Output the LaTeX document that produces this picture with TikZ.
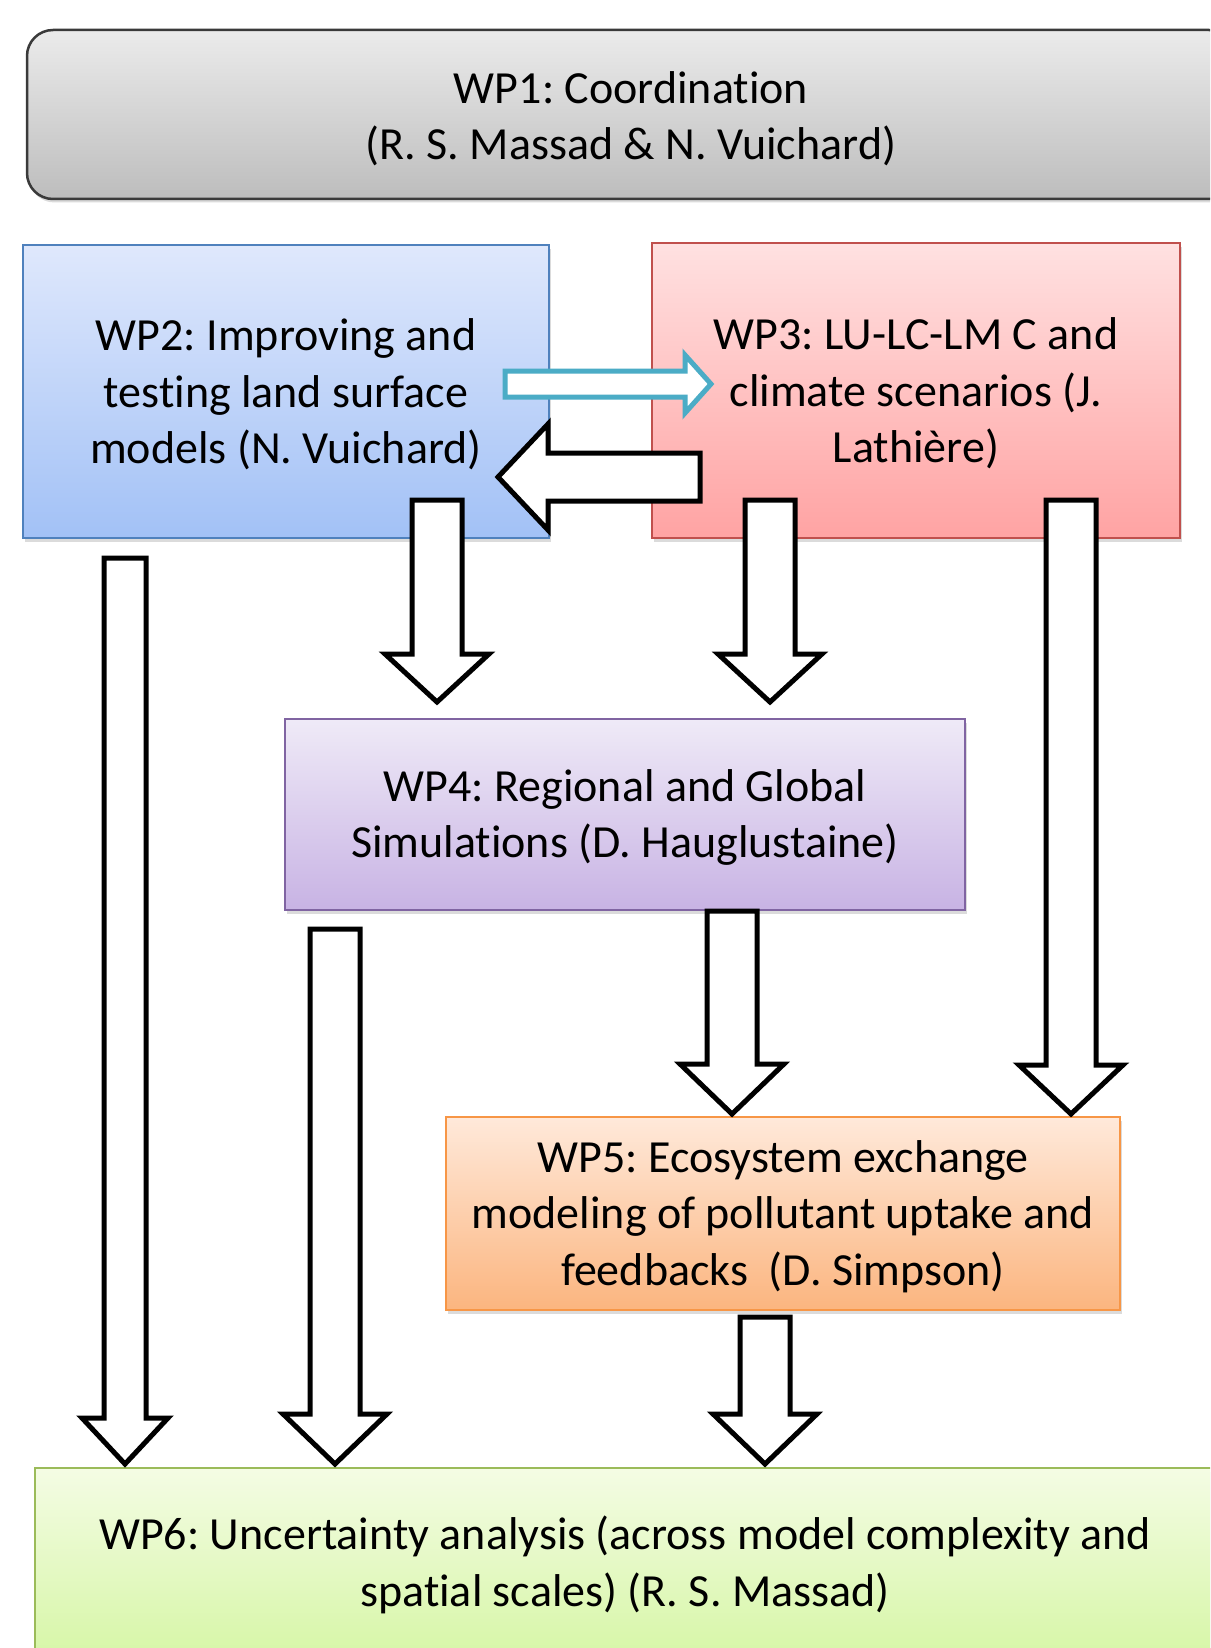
\documentclass[tikz,border=0pt]{standalone}
\usepackage{fontspec}
\setmainfont{Carlito}[Ligatures=NoCommon]
\frenchspacing
\usetikzlibrary{shadows}
\definecolor{wpAtop}{HTML}{EBEBEB}\definecolor{wpAbot}{HTML}{BDBDBD}\definecolor{wpAline}{HTML}{3A3A3A}
\definecolor{wpBtop}{HTML}{DFE8FC}\definecolor{wpBbot}{HTML}{A2C1F6}\definecolor{wpBline}{HTML}{4F81BD}
\definecolor{wpCtop}{HTML}{FFE1E1}\definecolor{wpCbot}{HTML}{FFA3A3}\definecolor{wpCline}{HTML}{C0504D}
\definecolor{wpDtop}{HTML}{EFEAF7}\definecolor{wpDbot}{HTML}{C8B3E4}\definecolor{wpDline}{HTML}{8064A2}
\definecolor{wpEtop}{HTML}{FFE9DA}\definecolor{wpEbot}{HTML}{FBB57F}\definecolor{wpEline}{HTML}{F79646}
\definecolor{wpFtop}{HTML}{F4FCE4}\definecolor{wpFbot}{HTML}{D6F6A6}\definecolor{wpFline}{HTML}{9BBB59}
\definecolor{tealline}{HTML}{4BACC6}
\newcommand\dnarrow[6]{%
  \draw[blockarrow] (#1-#4,#2) -- (#1+#4,#2) -- (#1+#4,#3-#6) -- (#1+#5,#3-#6) -- (#1,#3)
    -- (#1-#5,#3-#6) -- (#1-#4,#3-#6) -- cycle;}
\begin{document}
\begin{tikzpicture}[x=1pt,y=-1pt,
  wpbox/.style={rectangle, inner sep=0pt, outer sep=0pt, line width=1.8pt,
    drop shadow={opacity=0.28, shadow xshift=1.5pt, shadow yshift=-3.5pt}},
  wptext/.style={inner sep=0pt, align=center, font=\fontsize{46pt}{56.5pt}\selectfont},
  blockarrow/.style={draw=black, fill=white, line width=5pt, line join=miter},
  bluearrow/.style={draw=tealline, fill=white, line width=5pt, line join=miter}]
\useasboundingbox (0,0) rectangle (1210,1648);
\begin{scope}
\clip (0,0) rectangle (1210,1648);
\fill[white] (0,0) rectangle (1210,1648);
\node[wpbox, rounded corners=26pt, draw=wpAline, line width=2.5pt, top color=wpAtop, bottom color=wpAbot,
  minimum width=1208pt, minimum height=169pt] (wp1) at (631,114.5) {};
\node[wptext] (wp1t) at ([yshift=-4pt]wp1.center) {WP1: Coordination\\(R. S. Massad \& N. Vuichard)};
\node[wpbox, draw=wpBline, top color=wpBtop, bottom color=wpBbot,
  minimum width=526pt, minimum height=293pt] (wp2) at (286,391.5) {};
\node[wptext] (wp2t) at ([yshift=-3pt]wp2.center) {WP2: Improving and\\testing land surface\\models (N. Vuichard)};
\node[wpbox, draw=wpCline, top color=wpCtop, bottom color=wpCbot,
  minimum width=528pt, minimum height=295pt] (wp3) at (916,390.5) {};
\node[wptext] (wp3t) at ([yshift=-3pt]wp3.center) {WP3: LU-LC-LM C and\\climate scenarios (J.\\Lathière)};
\node[wpbox, draw=wpDline, top color=wpDtop, bottom color=wpDbot,
  minimum width=680pt, minimum height=191pt] (wp4) at (625,814.5) {};
\node[wptext] (wp4t) at ([yshift=-3pt]wp4.center) {WP4: Regional and Global\\Simulations (D. Hauglustaine)};
\node[wpbox, draw=wpEline, top color=wpEtop, bottom color=wpEbot,
  minimum width=674pt, minimum height=193pt] (wp5) at (783,1213.5) {};
\node[wptext] (wp5t) at ([yshift=-3pt]wp5.center) {WP5: Ecosystem exchange\\modeling of pollutant uptake and\\feedbacks\ \ (D. Simpson)};
\node[wpbox, draw=wpFline, top color=wpFtop, bottom color=wpFbot,
  minimum width=1180pt, minimum height=192pt] (wp6) at (625,1564) {};
\node[wptext] (wp6t) at ([yshift=-1pt]wp6.center) {WP6: Uncertainty analysis (across model complexity and\\spatial scales) (R. S. Massad)};
% horizontal arrows
\draw[bluearrow] (505,371) -- (685,371) -- (685,355) -- (711,384) -- (685,413) -- (685,397) -- (505,397) -- cycle;
\draw[blockarrow] (700,453) -- (548,453) -- (548,424) -- (498,477) -- (548,530) -- (548,501) -- (700,501) -- cycle;
% vertical arrows
\dnarrow{437}{500}{702}{25}{52}{48}
\dnarrow{770}{500}{702}{25}{52}{48}
\dnarrow{1071}{500}{1114}{25}{52}{49}
\dnarrow{125}{558}{1464}{21}{43}{46}
\dnarrow{335}{929}{1464}{25}{52}{50}
\dnarrow{732}{911}{1114}{25}{52}{50}
\dnarrow{765}{1317}{1464}{25}{52}{50}
\end{scope}
\end{tikzpicture}
\end{document}
